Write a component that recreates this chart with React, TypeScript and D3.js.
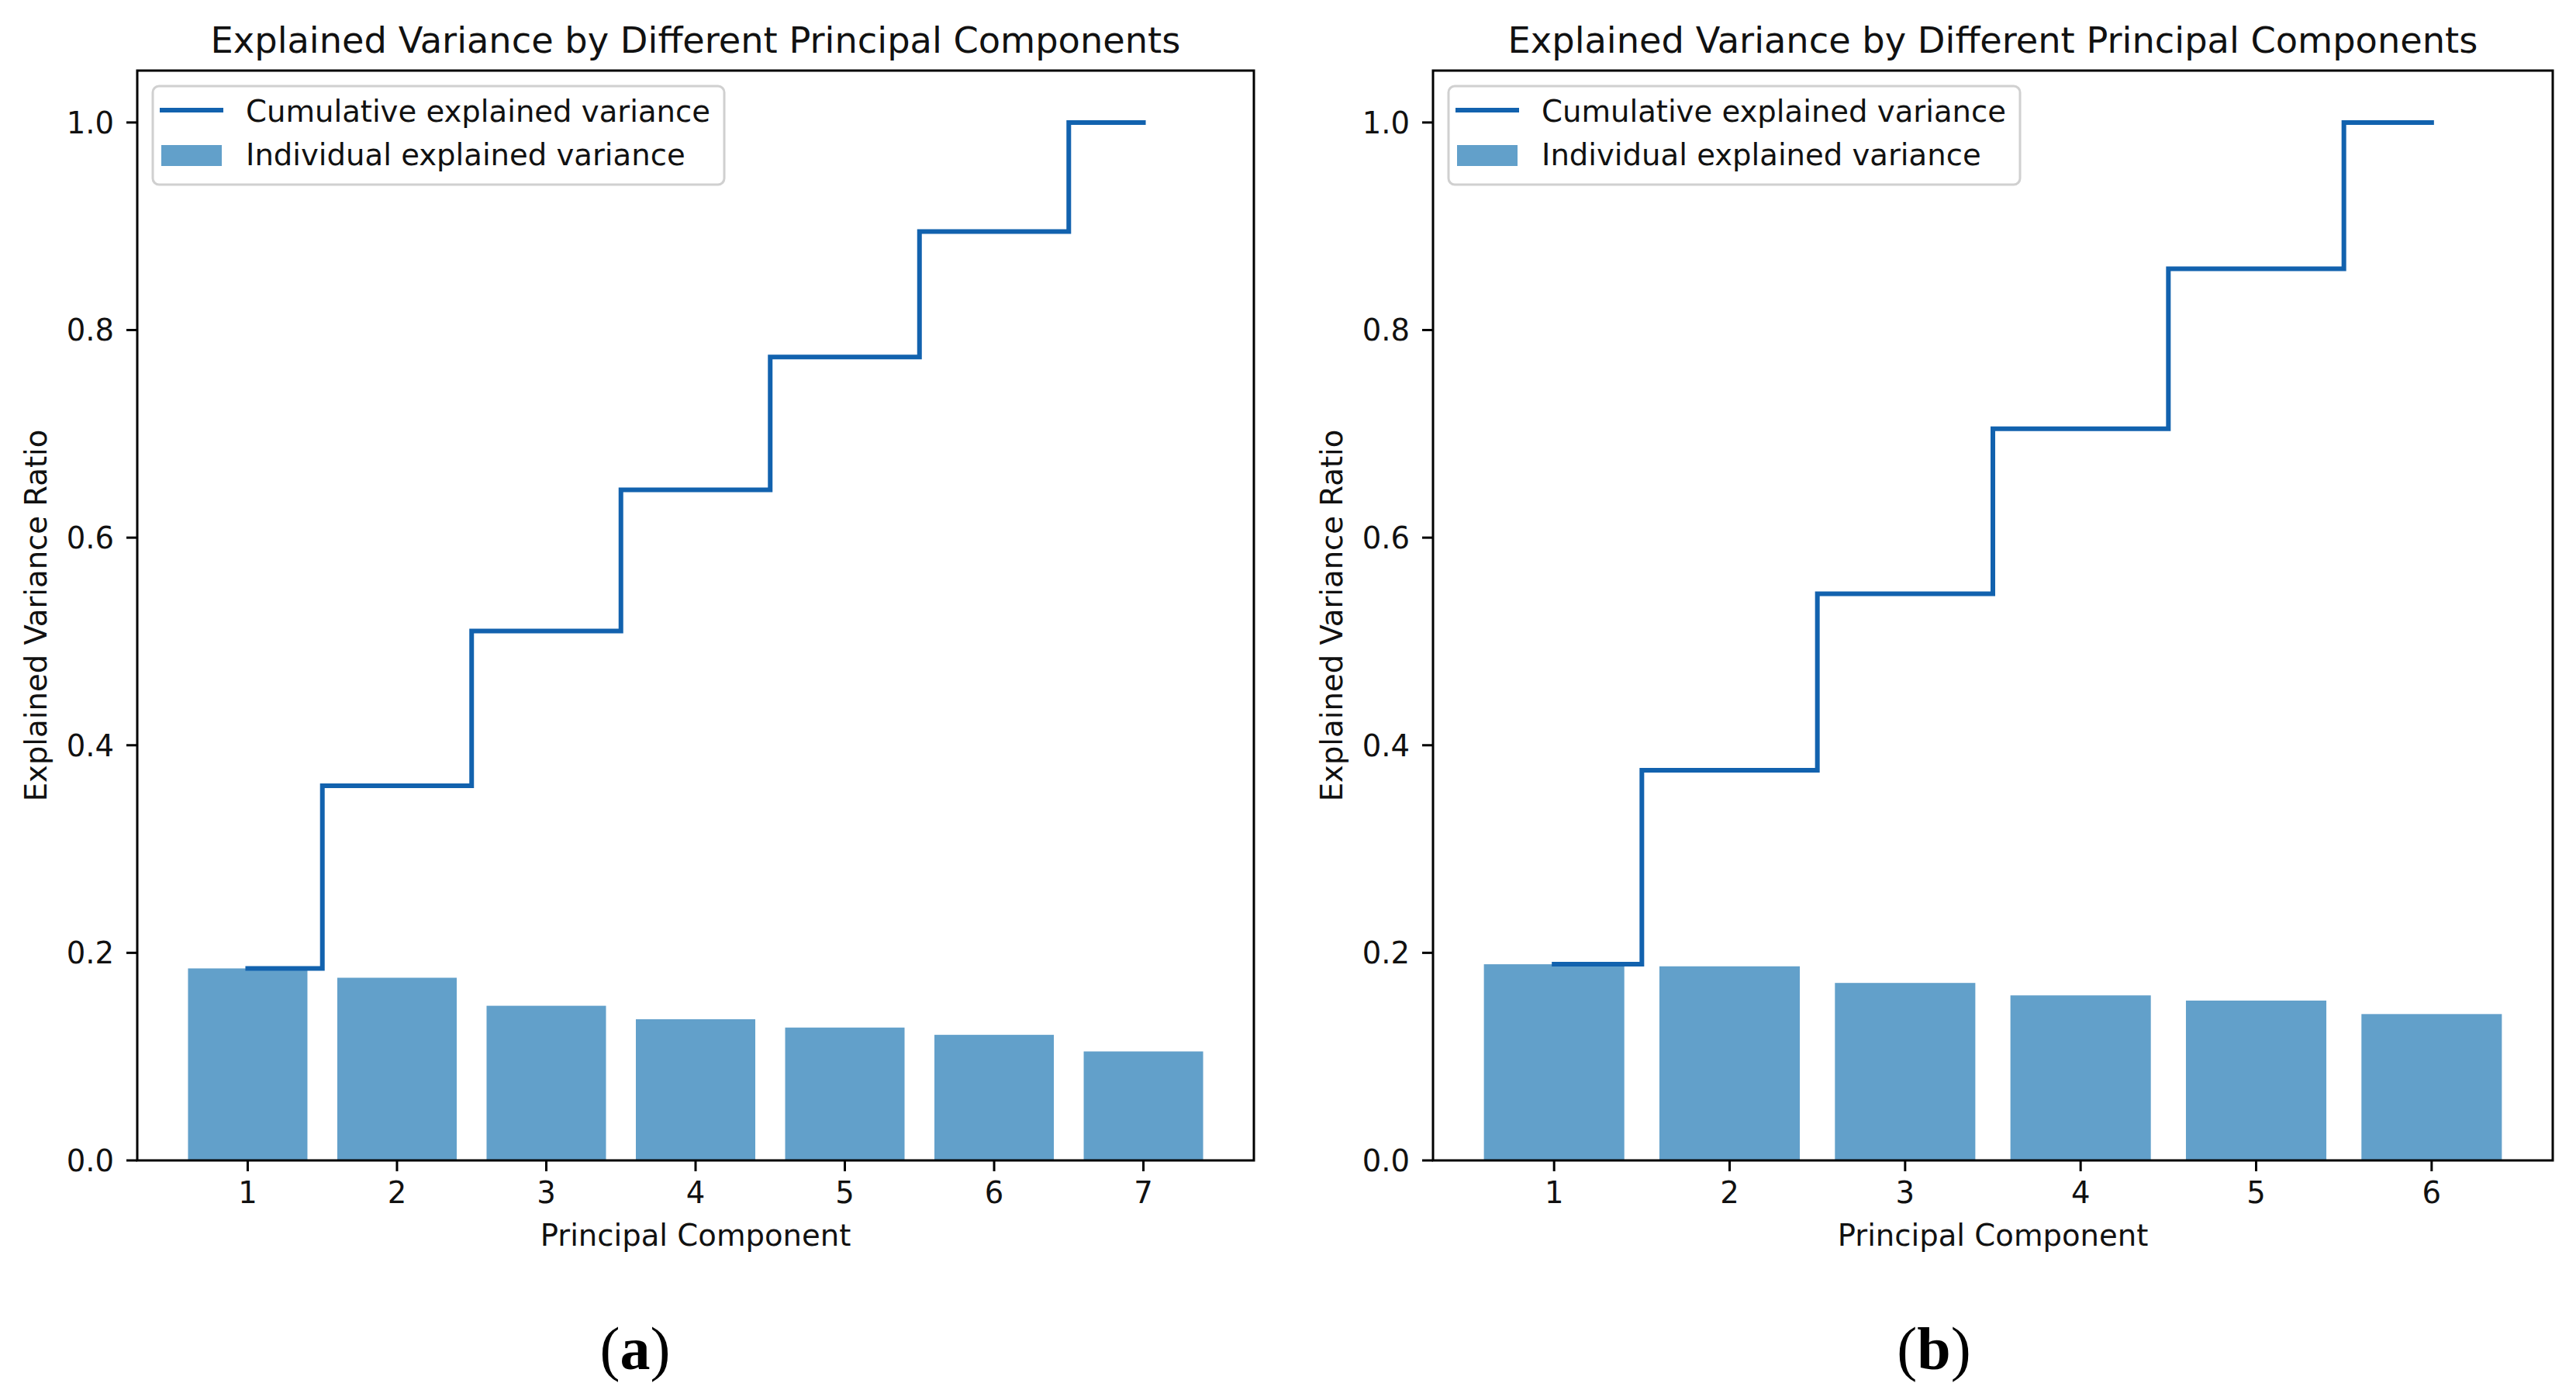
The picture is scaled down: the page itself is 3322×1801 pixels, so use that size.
import React from "react";
import * as d3 from "d3";

// ---------- data ----------
const componentsA = [1, 2, 3, 4, 5, 6, 7];
const individualA = [0.185, 0.176, 0.149, 0.136, 0.128, 0.121, 0.105];
const cumulativeA = [0.185, 0.361, 0.51, 0.646, 0.774, 0.895, 1.0];

const componentsB = [1, 2, 3, 4, 5, 6];
const individualB = [0.189, 0.187, 0.171, 0.159, 0.154, 0.141];
const cumulativeB = [0.189, 0.376, 0.546, 0.705, 0.859, 1.0];

const yTicks = [0, 0.2, 0.4, 0.6, 0.8, 1.0];
const titleText = "Explained Variance by Different Principal Components";
const xLabelText = "Principal Component";
const yLabelText = "Explained Variance Ratio";
const legendLine = "Cumulative explained variance";
const legendBar = "Individual explained variance";
const captions = ["a", "b"];

const W = 3322;
const H = 1801;
const FONT = "'DejaVu Sans', sans-serif";
const C0 = "#1f77b4";
const LINE_COLOR = "#1262ae";
const TXT = "#111";

type PanelProps = {
  comps: number[];
  indiv: number[];
  cum: number[];
  left: number;
  right: number;
  top: number;
  bottom: number;
  caption: string;
  captionX: number;
};

function Panel({ comps, indiv, cum, left, right, top, bottom, caption, captionX }: PanelProps) {
  const n = comps.length;
  const margin = (n - 1 + 0.8) * 0.05;
  const x = d3
    .scaleLinear()
    .domain([comps[0] - 0.4 - margin, comps[n - 1] + 0.4 + margin])
    .range([left, right]);
  const y = d3.scaleLinear().domain([0, 1.05]).range([bottom, top]);
  const barW = x(0.8) - x(0);
  const stepPath = d3
    .line<number>()
    .x((_, i) => x(comps[i]))
    .y((d) => y(d))
    .curve(d3.curveStep)(cum) as string;

  const cx = (left + right) / 2;
  const cy = (top + bottom) / 2;
  const tickLen = 14;
  const fs = 38.6;

  const lgL = left + 20;
  const lgT = top + 20;

  return (
    <g>
      {/* bars */}
      {indiv.map((v, i) => (
        <rect
          key={"b" + i}
          x={x(comps[i]) - barW / 2}
          y={y(v)}
          width={barW}
          height={y(0) - y(v)}
          fill={C0}
          fillOpacity={0.7}
        />
      ))}
      {/* cumulative step line */}
      <path d={stepPath} fill="none" stroke={LINE_COLOR} strokeWidth={6} strokeLinecap="square" />

      {/* spines */}
      <rect x={left} y={top} width={right - left} height={bottom - top} fill="none" stroke="#000" strokeWidth={3} />

      {/* y ticks */}
      {yTicks.map((t) => (
        <g key={"y" + t}>
          <line x1={left - tickLen} x2={left} y1={y(t)} y2={y(t)} stroke="#000" strokeWidth={3} />
          <text
            x={left - 30}
            y={y(t)}
            dy="0.36em"
            textAnchor="end"
            fontFamily={FONT}
            fontSize={fs}
            fill={TXT}
          >
            {t.toFixed(1)}
          </text>
        </g>
      ))}
      {/* x ticks */}
      {comps.map((c) => (
        <g key={"x" + c}>
          <line x1={x(c)} x2={x(c)} y1={bottom} y2={bottom + tickLen} stroke="#000" strokeWidth={3} />
          <text x={x(c)} y={bottom + 55} textAnchor="middle" fontFamily={FONT} fontSize={fs} fill={TXT}>
            {c}
          </text>
        </g>
      ))}

      {/* labels */}
      <text x={cx} y={1606} textAnchor="middle" fontFamily={FONT} fontSize={fs} fill={TXT}>
        {xLabelText}
      </text>
      <text
        transform={`translate(${left - 117},${cy}) rotate(-90)`}
        textAnchor="middle"
        fontFamily={FONT}
        fontSize={fs}
        fill={TXT}
      >
        {yLabelText}
      </text>
      <text x={cx} y={68} textAnchor="middle" fontFamily={FONT} fontSize={46.3} fill={TXT}>
        {titleText}
      </text>

      {/* legend */}
      <rect
        x={lgL}
        y={lgT}
        width={737}
        height={127}
        rx={8}
        ry={8}
        fill="#fff"
        fillOpacity={0.8}
        stroke="#d0d0d0"
        strokeWidth={3}
      />
      <line x1={lgL + 9} x2={lgL + 91} y1={lgT + 31} y2={lgT + 31} stroke={LINE_COLOR} strokeWidth={6} />
      <rect x={lgL + 11} y={lgT + 76} width={78} height={27} fill={C0} fillOpacity={0.7} />
      <text x={lgL + 120} y={lgT + 46} fontFamily={FONT} fontSize={fs} fill={TXT}>
        {legendLine}
      </text>
      <text x={lgL + 120} y={lgT + 102} fontFamily={FONT} fontSize={fs} fill={TXT}>
        {legendBar}
      </text>

      {/* caption */}
      <text x={captionX} y={1765} textAnchor="middle" fontFamily="'Liberation Serif', 'DejaVu Serif', serif" fontSize={78} fill="#000">
        <tspan>(</tspan>
        <tspan fontWeight="bold">{caption}</tspan>
        <tspan>)</tspan>
      </text>
    </g>
  );
}

export default function App() {
  return (
    <svg
      width={W}
      height={H}
      viewBox={`0 0 ${W} ${H}`}
      style={{ position: "absolute", left: 0, top: 0, background: "#fff" }}
    >
      <rect x={0} y={0} width={W} height={H} fill="#fff" />
      <Panel
        comps={componentsA}
        indiv={individualA}
        cum={cumulativeA}
        left={177}
        right={1617}
        top={91}
        bottom={1496}
        caption={captions[0]}
        captionX={819}
      />
      <Panel
        comps={componentsB}
        indiv={individualB}
        cum={cumulativeB}
        left={1848}
        right={3292}
        top={91}
        bottom={1496}
        caption={captions[1]}
        captionX={2494}
      />
    </svg>
  );
}
